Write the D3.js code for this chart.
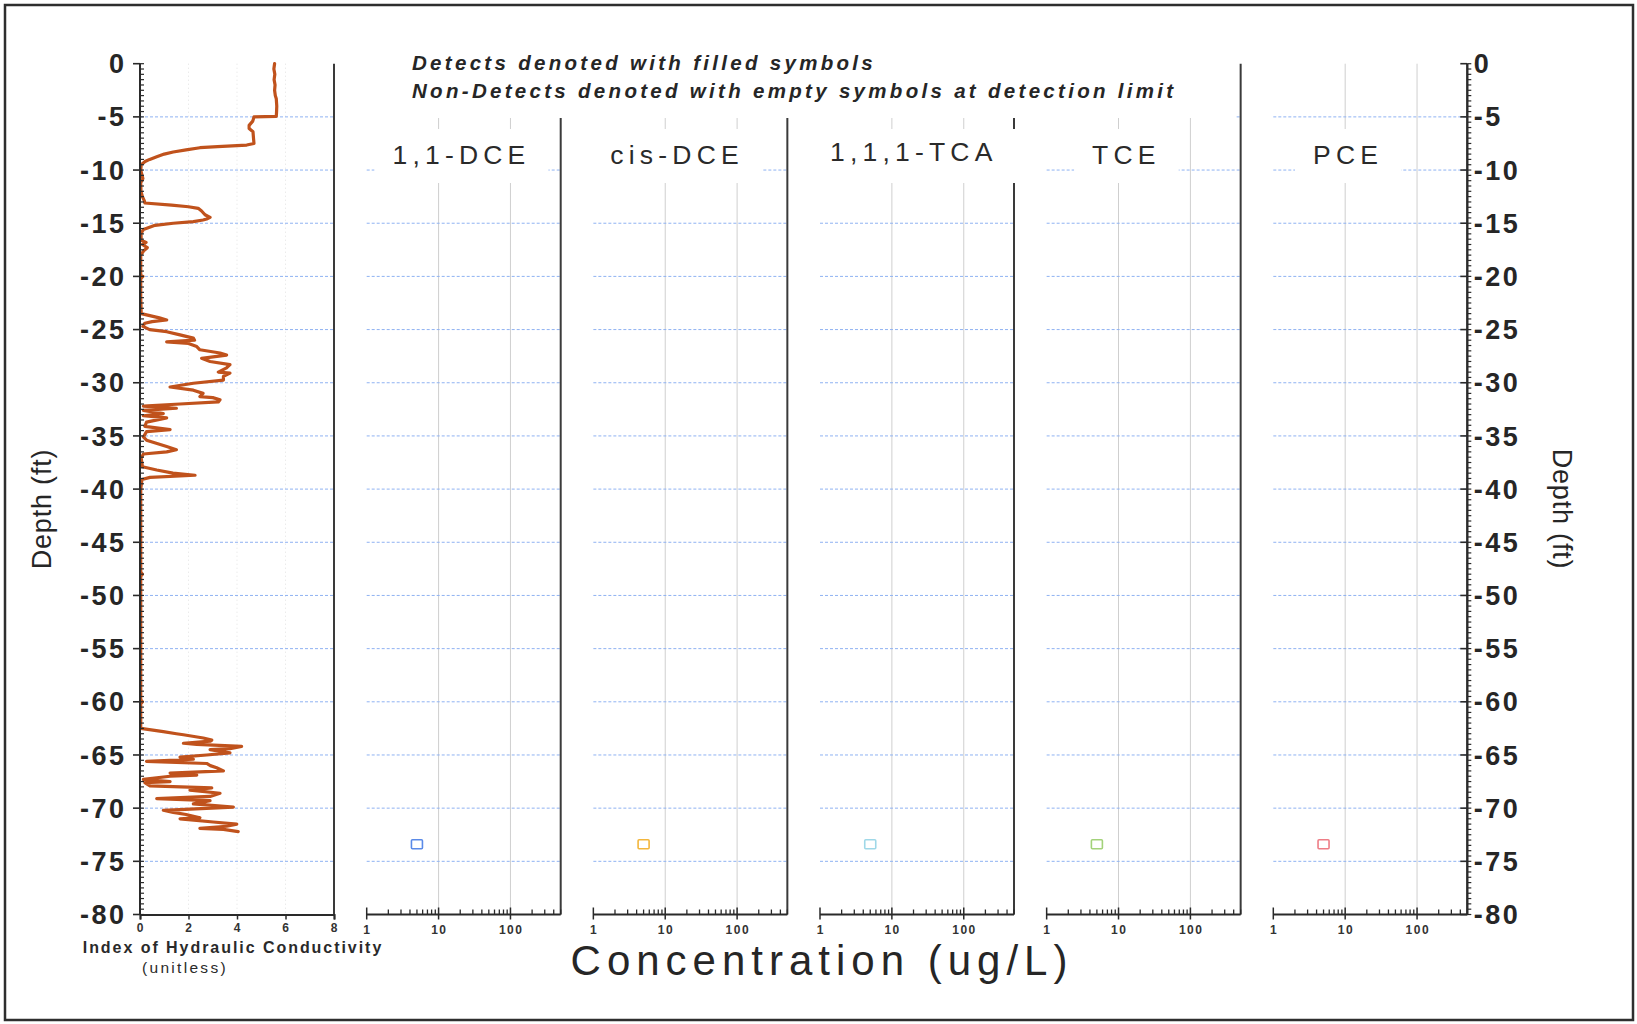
<!DOCTYPE html>
<html><head><meta charset="utf-8">
<script src="https://cdn.jsdelivr.net/npm/d3@7"></script>
<style>
body{margin:0;background:#fff;}
svg{display:block;}
text{font-family:"Liberation Sans",Arial,Helvetica,sans-serif;}
</style>
</head><body>
<svg id="chart" width="1637" height="1024"></svg>
<script>
// ---------------- DATA ----------------
// Hydraulic conductivity profile (depth ft, index unitless)
const hkDepth = [0.0,-0.5,-1.0,-1.5,-2.0,-2.5,-3.0,-3.3,-4.0,-4.6,-4.95,-5.0,-5.4,-5.8,-6.1,-6.4,-7.0,-7.5,-7.65,-7.8,-7.9,-8.1,-8.3,-8.5,-8.75,-9.0,-9.2,-9.5,-10.0,-10.8,-11.2,-12.0,-12.5,-12.9,-13.1,-13.3,-13.45,-13.6,-13.85,-14.2,-14.45,-14.6,-14.7,-14.85,-15.0,-15.2,-15.6,-15.95,-16.6,-16.8,-17.0,-17.3,-17.6,-18.0,-19.9,-20.0,-20.2,-22.0,-23.5,-23.9,-24.1,-24.25,-24.4,-24.7,-25.0,-25.2,-25.5,-25.8,-26.0,-26.15,-26.3,-26.6,-26.9,-27.2,-27.4,-27.7,-28.0,-28.3,-28.6,-29.0,-29.1,-29.4,-29.75,-30.05,-30.4,-30.7,-31.0,-31.3,-31.4,-31.6,-31.8,-32.0,-32.2,-32.4,-32.6,-32.9,-33.1,-33.3,-33.7,-34.1,-34.4,-34.6,-35.1,-35.4,-36.0,-36.3,-36.5,-36.7,-37.1,-37.9,-38.2,-38.5,-38.7,-38.9,-39.1,-40.0,-47.8,-48.0,-48.2,-55.0,-59.8,-60.0,-60.2,-62.5,-62.8,-63.0,-63.1,-63.4,-63.6,-63.7,-63.9,-64.0,-64.2,-64.4,-64.5,-64.8,-65.0,-65.2,-65.4,-65.6,-65.8,-66.0,-66.2,-66.5,-66.7,-66.9,-67.0,-67.3,-67.5,-67.6,-67.9,-68.1,-68.3,-68.6,-68.9,-69.1,-69.3,-69.6,-69.9,-70.2,-70.4,-70.6,-70.9,-71.0,-71.3,-71.5,-71.7,-71.9,-72.0,-72.2];
const hkIndex = [5.55,5.52,5.56,5.53,5.57,5.55,5.58,5.62,5.64,5.63,5.62,4.7,4.65,4.5,4.5,4.66,4.68,4.7,4.4,3.2,2.47,1.9,1.37,1.0,0.69,0.4,0.21,0.05,0.03,0.12,0.03,0.04,0.1,0.18,0.2,1.3,2.0,2.4,2.54,2.68,2.89,2.75,2.6,2.2,1.37,0.62,0.14,0.04,0.05,0.25,0.1,0.3,0.15,0.03,0.03,0.12,0.03,0.03,0.05,0.8,1.1,0.5,0.2,0.12,0.4,1.1,1.65,2.2,2.25,1.1,2.0,2.34,2.47,3.3,3.57,2.54,2.89,3.71,3.57,3.23,3.71,3.44,3.44,2.2,1.24,2.2,2.6,2.47,3.0,3.3,3.23,1.65,0.14,1.5,0.14,0.96,0.14,1.1,0.27,0.2,1.24,0.27,0.14,0.27,1.1,1.5,1.1,0.14,0.05,0.1,0.69,1.36,2.27,0.41,0.08,0.03,0.03,0.1,0.03,0.03,0.03,0.1,0.03,0.03,0.96,1.5,1.79,2.61,2.96,2.9,1.79,2.34,4.19,3.71,2.89,3.71,2.75,1.65,2.2,0.27,2.75,2.9,3.16,3.44,1.24,2.34,1.24,0.14,1.24,0.2,0.41,2.96,2.06,3.3,2.89,0.69,2.89,2.2,3.85,0.96,1.37,1.9,2.47,1.65,3.02,3.99,3.57,2.47,3.44,4.05];

// Concentration panels (non-detects plotted at detection limit)
const analytes = ["1,1-DCE","cis-DCE","1,1,1-TCA","TCE","PCE"];
const ndValue = [5,5,5,5,5];
const ndDepth = [-73.4,-73.4,-73.4,-73.4,-73.4];
const analyteColors = ["#5a8ae8","#f3b63c","#9fd8e8","#a3d27a","#ee7d86"];

// Tick labels
const depthTicks = [0,-5,-10,-15,-20,-25,-30,-35,-40,-45,-50,-55,-60,-65,-70,-75,-80];
const hkTicks = [0,2,4,6,8];
const logTicks = [1,10,100];
const noteLines = ["Detects denoted with filled symbols","Non-Detects denoted with empty symbols at detection limit"];

// ---------------- LAYOUT ----------------
const svg = d3.select("#chart");
const plotTop = 63.7, plotBottom = 914.5;
const pw = 194, gap = 226.65;
const hkLeft = 140;
const concLeft = analytes.map((d,i)=>366.7 + i*gap);
const titleShift = [-5,-16,-6,-20,-25];
const titleBase = [164,164,160.5,164,164];
const font = '"Liberation Sans",Arial,sans-serif';
const gridBlue = "#8fb2f2";

const y = d3.scaleLinear().domain([0,-80]).range([plotTop, plotBottom]);
const xHK = d3.scaleLinear().domain([0,8]).range([hkLeft, hkLeft+pw]);
const xLogs = concLeft.map(l => d3.scaleLog().domain([1,500]).range([l, l+pw]));

// outer frame
svg.append("rect").attr("x",5).attr("y",5).attr("width",1628).attr("height",1015)
  .attr("fill","#fff").attr("stroke","#2e2e2e").attr("stroke-width",2.5);

const gridDepths = depthTicks.filter(d => d!==0 && d!==-80);

// ---- hydraulic panel grid
svg.append("g").selectAll("line").data([2,4,6]).join("line")
  .attr("x1",d=>xHK(d)).attr("x2",d=>xHK(d)).attr("y1",plotTop).attr("y2",plotBottom)
  .attr("stroke","#e2e2e2").attr("stroke-dasharray","1,3");
svg.append("g").selectAll("line").data(gridDepths).join("line")
  .attr("x1",xHK(0)).attr("x2",xHK(8)).attr("y1",d=>y(d)).attr("y2",d=>y(d))
  .attr("stroke",gridBlue).attr("stroke-width",1).attr("stroke-dasharray","3,2");

// ---- concentration panels grid + borders
analytes.forEach((a,i)=>{
  const x = xLogs[i];
  const g = svg.append("g");
  g.selectAll("line.v").data([10,100]).join("line").attr("class","v")
    .attr("x1",d=>x(d)).attr("x2",d=>x(d)).attr("y1",plotTop).attr("y2",plotBottom)
    .attr("stroke","#cfcfcf").attr("stroke-width",1);
  g.selectAll("line.h").data(gridDepths).join("line").attr("class","h")
    .attr("x1",x(1)).attr("x2",x(500)).attr("y1",d=>y(d)).attr("y2",d=>y(d))
    .attr("stroke",gridBlue).attr("stroke-width",1).attr("stroke-dasharray","3,2");
  g.append("line").attr("x1",x(500)).attr("x2",x(500)).attr("y1",plotTop).attr("y2",plotBottom)
    .attr("stroke","#3a3a3a").attr("stroke-width",2);
});

// ---- annotation box + text
svg.append("rect").attr("x",345).attr("y",40).attr("width",890).attr("height",78).attr("fill","#fff");
svg.append("g").selectAll("text").data(noteLines).join("text")
  .attr("x",412).attr("y",(d,i)=>70+i*27.5)
  .attr("font-size",20.5).attr("font-weight","bold").attr("font-style","italic")
  .attr("letter-spacing",3.3).attr("fill","#262626").text(d=>d);

// ---- titles with white boxes
analytes.forEach((a,i)=>{
  const cx = concLeft[i] + pw/2 + titleShift[i];
  const g = svg.append("g");
  const box = g.append("rect").attr("fill","#fff");
  const t = g.append("text").attr("x",cx+2.75).attr("y",titleBase[i]).attr("text-anchor","middle")
    .attr("font-size",26.5).attr("letter-spacing",5.2).attr("fill","#2a2a2a").text(a);
  const bb = t.node().getBBox();
  box.attr("x",bb.x-18).attr("y",129).attr("width",bb.width+36).attr("height",54);
});

// ---- hydraulic line
const line = d3.line().x((d,i)=>xHK(hkIndex[i])).y(d=>y(d)).curve(d3.curveLinear);
svg.append("path").datum(hkDepth).attr("d",line)
  .attr("fill","none").attr("stroke","#c0521c").attr("stroke-width",3.2)
  .attr("stroke-linejoin","round").attr("stroke-linecap","round");

// hydraulic right border & bottom axis
svg.append("line").attr("x1",xHK(8)).attr("x2",xHK(8)).attr("y1",plotTop).attr("y2",plotBottom)
  .attr("stroke","#3a3a3a").attr("stroke-width",2);
const hkAxis = d3.axisBottom(xHK).tickValues(hkTicks).tickSize(5).tickPadding(4).tickFormat(d3.format("d"));
const gHK = svg.append("g").attr("transform",`translate(0,${plotBottom})`).call(hkAxis);
gHK.select(".domain").attr("stroke","#2a2a2a").attr("stroke-width",2);
gHK.selectAll(".tick line").attr("stroke","#2a2a2a").attr("stroke-width",1.5);
gHK.selectAll(".tick text").attr("font-family",font).attr("font-size",12).attr("font-weight","bold")
  .attr("fill","#333").attr("letter-spacing",1);

// log bottom axes
analytes.forEach((a,i)=>{
  const x = xLogs[i];
  const g = svg.append("g").attr("transform",`translate(0,${plotBottom})`);
  const minor = [2,3,4,5,6,7,8,9,20,30,40,50,60,70,80,90,200,300,400,500];
  g.selectAll("line.mi").data(minor).join("line").attr("class","mi")
    .attr("x1",d=>x(d)).attr("x2",d=>x(d)).attr("y1",0).attr("y2",-5)
    .attr("stroke","#2a2a2a").attr("stroke-width",1.3);
  g.selectAll("line.ma").data(logTicks).join("line").attr("class","ma")
    .attr("x1",d=>x(d)).attr("x2",d=>x(d)).attr("y1",5).attr("y2",-7)
    .attr("stroke","#2a2a2a").attr("stroke-width",1.5);
  g.append("line").attr("x1",x(1)).attr("x2",x(500)).attr("y1",0).attr("y2",0)
    .attr("stroke","#2a2a2a").attr("stroke-width",2);
  g.selectAll("text").data(logTicks).join("text")
    .attr("x",d=>x(d)+0.75).attr("y",19).attr("text-anchor","middle")
    .attr("font-size",12).attr("font-weight","bold").attr("letter-spacing",1.5).attr("fill","#333")
    .text(d=>d);
});

// markers (non-detect: empty squares)
analytes.forEach((a,i)=>{
  const x = xLogs[i];
  svg.append("rect").attr("x",x(ndValue[i])-5.5).attr("y",y(ndDepth[i])-4.5)
    .attr("width",11).attr("height",9).attr("rx",1)
    .attr("fill","none").attr("stroke",analyteColors[i]).attr("stroke-width",1.6);
});

// depth axes (left & right)
function depthAxis(x0, labelSide){
  const g = svg.append("g");
  const minor = d3.range(0,161).map(k=>-k*0.5);
  g.selectAll("line.mi").data(minor).join("line").attr("class","mi")
    .attr("x1",x0).attr("x2",x0+4).attr("y1",d=>y(d)).attr("y2",d=>y(d))
    .attr("stroke","#2a2a2a").attr("stroke-width",1.2);
  g.selectAll("line.ma").data(depthTicks).join("line").attr("class","ma")
    .attr("x1",x0-7).attr("x2",x0).attr("y1",d=>y(d)).attr("y2",d=>y(d))
    .attr("stroke","#2a2a2a").attr("stroke-width",1.6);
  g.append("line").attr("x1",x0).attr("x2",x0).attr("y1",plotTop).attr("y2",plotBottom)
    .attr("stroke","#2a2a2a").attr("stroke-width",2);
  g.selectAll("text").data(depthTicks).join("text")
    .attr("x", labelSide==="left" ? x0-13.5 : x0+6.5)
    .attr("y",d=>y(d)+9.6)
    .attr("text-anchor", labelSide==="left" ? "end" : "start")
    .attr("font-size",27).attr("font-weight","bold").attr("letter-spacing",2.5).attr("fill","#262626")
    .text(d=>d);
}
depthAxis(hkLeft,"left");
depthAxis(concLeft[4]+pw,"right");

// axis titles
svg.append("text").attr("transform","translate(51,509) rotate(-90)").attr("text-anchor","middle")
  .attr("font-size",27).attr("letter-spacing",0.8).attr("fill","#262626").text("Depth (ft)");
svg.append("text").attr("transform","translate(1553,509) rotate(90)").attr("text-anchor","middle")
  .attr("font-size",27).attr("letter-spacing",0.8).attr("fill","#262626").text("Depth (ft)");
svg.append("text").attr("x",233).attr("y",952.5).attr("text-anchor","middle")
  .attr("font-size",16).attr("font-weight","bold").attr("letter-spacing",1.95).attr("fill","#2a2a2a")
  .text("Index of Hydraulic Conductivity");
svg.append("text").attr("x",185).attr("y",973).attr("text-anchor","middle")
  .attr("font-size",15.5).attr("letter-spacing",2.3).attr("fill","#2a2a2a").text("(unitless)");
svg.append("text").attr("x",822).attr("y",975).attr("text-anchor","middle")
  .attr("font-size",42).attr("letter-spacing",6).attr("fill","#262626").text("Concentration (ug/L)");
</script>
</body></html>
